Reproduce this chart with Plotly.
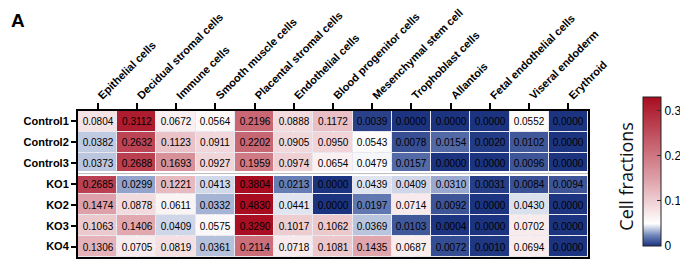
import plotly.graph_objects as go

cell_types = ["Epithelial cells", "Decidual stromal cells", "Immune cells", "Smooth muscle cells",
              "Placental stromal cells", "Endothelial cells", "Blood progenitor cells",
              "Mesenchymal stem cell", "Trophoblast cells", "Allantois", "Fetal endothelial cells",
              "Viseral endoderm", "Erythroid"]
samples = ["Control1", "Control2", "Control3", "KO1", "KO2", "KO3", "KO4"]

control1 = [0.0804, 0.3112, 0.0672, 0.0564, 0.2196, 0.0888, 0.1172, 0.0039, 0.0000, 0.0000, 0.0000, 0.0552, 0.0000]
control2 = [0.0382, 0.2632, 0.1123, 0.0911, 0.2202, 0.0905, 0.0950, 0.0543, 0.0078, 0.0154, 0.0020, 0.0102, 0.0000]
control3 = [0.0373, 0.2688, 0.1693, 0.0927, 0.1959, 0.0974, 0.0654, 0.0479, 0.0157, 0.0000, 0.0000, 0.0096, 0.0000]
ko1 = [0.2685, 0.0299, 0.1221, 0.0413, 0.3804, 0.0213, 0.0000, 0.0439, 0.0409, 0.0310, 0.0031, 0.0084, 0.0094]
ko2 = [0.1474, 0.0878, 0.0611, 0.0332, 0.4830, 0.0441, 0.0000, 0.0197, 0.0714, 0.0092, 0.0000, 0.0430, 0.0000]
ko3 = [0.1063, 0.1406, 0.0409, 0.0575, 0.3290, 0.1017, 0.1062, 0.0369, 0.0103, 0.0004, 0.0000, 0.0702, 0.0000]
ko4 = [0.1306, 0.0705, 0.0819, 0.0361, 0.2114, 0.0718, 0.1081, 0.1435, 0.0687, 0.0072, 0.0010, 0.0694, 0.0000]

z = [control1, control2, control3, ko1, ko2, ko3, ko4]

colorscale = [
    [0.0, "rgb(28,52,128)"],
    [0.07, "rgb(110,132,185)"],
    [0.15, "rgb(255,255,255)"],
    [0.45, "rgb(222,160,168)"],
    [0.75, "rgb(192,80,95)"],
    [1.0, "rgb(168,12,32)"],
]

# The page body has an 8px default margin, so the figure is laid out 8px smaller/shifted
OFF = 8
W, H = 688 - OFF, 259 - OFF
ml, mr, mt, mb = 78 - OFF, 96, 111 - OFF, 2
pw, ph = W - ml - mr, H - mt - mb

fig = go.Figure(go.Heatmap(
    z=z, x=cell_types, y=samples,
    colorscale=colorscale, zmin=0, zmax=0.331,
    xgap=1, ygap=1,
    texttemplate="%{z:.4f}", textfont=dict(size=10, color="black", family="Liberation Sans, Arial"),
    colorbar=dict(
        x=(647 - OFF - ml) / pw, xanchor="left", xpad=0, ypad=0,
        thickness=18, thicknessmode="pixels", len=149, lenmode="pixels",
        y=1 + (mt - (97 - OFF)) / ph, yanchor="top",
        tickvals=[0, 0.1, 0.2, 0.3], ticktext=["0", "0.1", "0.2", "0.3"],
        ticks="inside", ticklen=4, tickcolor="#333",
        tickfont=dict(size=12, color="black", family="Liberation Sans, Arial"),
        outlinewidth=1, outlinecolor="#222",
    ),
))

fig.update_xaxes(side="top", tickangle=-45, showline=True, linewidth=2, linecolor="black", mirror=True,
                 ticks="outside", ticklen=6, tickwidth=1.5, tickcolor="black",
                 ticklabelstandoff=-3, ticklabelshift=1,
                 tickfont=dict(size=11, color="black", family="Liberation Sans, Arial"),
                 tickprefix="<b>", ticksuffix="</b>", automargin=False)
fig.update_yaxes(autorange="reversed", showline=True, linewidth=2, linecolor="black", mirror=True,
                 ticks="outside", ticklen=5, tickwidth=1.5, tickcolor="black",
                 tickfont=dict(size=11, color="black", family="Liberation Sans, Arial"),
                 tickprefix="<b>", ticksuffix="</b>", automargin=False)

# separator between control and KO groups
fig.add_shape(type="line", xref="paper", yref="y", x0=0, x1=1, y0=2.5, y1=2.5,
              line=dict(color="white", width=5))
fig.add_shape(type="line", xref="paper", yref="y", x0=0, x1=1, y0=2.5, y1=2.5,
              line=dict(color="#bbbbbb", width=1))

fig.add_annotation(text="<b>A</b>", xref="paper", yref="paper", x=-ml / pw,
                   y=1 + mt / ph, xanchor="left", yanchor="top", showarrow=False,
                   font=dict(size=19, color="black", family="Liberation Sans, Arial"))
fig.add_annotation(text="Cell fractions", xref="paper", yref="paper", x=(630 - OFF - ml) / pw,
                   y=1 + (mt - (176 - OFF)) / ph, textangle=-90, showarrow=False,
                   xanchor="center", yanchor="middle",
                   font=dict(size=18, color="#111", family="Open Sans, Liberation Sans"))

fig.update_layout(width=W, height=H, margin=dict(l=ml, r=mr, t=mt, b=mb),
                  plot_bgcolor="#e8e8ee", paper_bgcolor="white")
fig.write_html("out.html")
